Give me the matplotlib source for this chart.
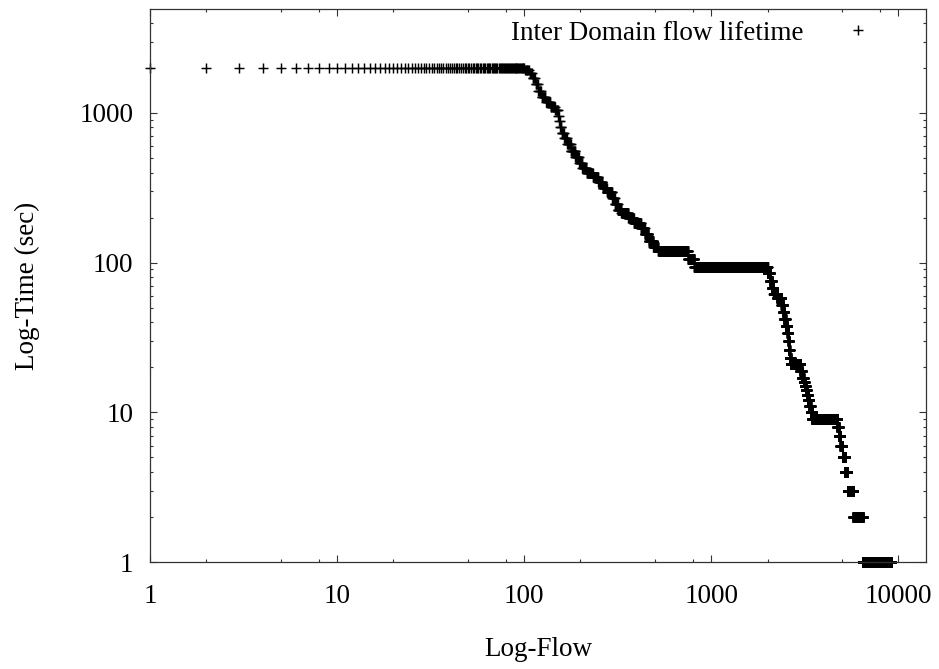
import numpy as np
import matplotlib
matplotlib.use('Agg')
import matplotlib.pyplot as plt
from matplotlib.ticker import LogLocator, FixedLocator, NullFormatter

plt.rcParams['font.family'] = ['Liberation Serif', 'DejaVu Serif']

# flows sorted by lifetime: each level holds the flows up to last_rank
lifetime = [2000, 1950, 1850, 1700, 1550, 1400, 1280, 1180, 1100, 1040,
            960, 880, 810, 740, 680, 620, 560, 510, 460, 430,
            400, 375, 345, 315, 295, 270, 245, 225, 215, 200,
            185, 170, 155, 140, 128, 120, 105, 94, 85, 75,
            68, 62, 58, 52, 47, 42, 38, 34, 30, 26,
            23, 21, 19, 17, 16, 15, 14, 13, 12, 11,
            10, 9, 8, 7, 6, 5, 4, 3, 2, 1]
last_rank = [100, 106, 110, 114, 118, 123, 130, 138, 146, 151,
             153, 155, 158, 163, 169, 177, 187, 196, 204, 215,
             232, 248, 262, 276, 295, 305, 316, 330, 360, 385,
             420, 440, 462, 490, 520, 750, 810, 2000, 2060, 2110,
             2150, 2250, 2370, 2420, 2450, 2500, 2550, 2580, 2600, 2625,
             2660, 2990, 3050, 3120, 3160, 3200, 3240, 3290, 3340, 3400,
             3460, 4720, 4800, 4900, 5030, 5180, 5350, 5750, 6450, 9150]

x_ticks = [1, 10, 100, 1000, 10000]
y_ticks = [1, 10, 100, 1000]

ranks = np.arange(1, last_rank[-1] + 1)
times = np.array(lifetime)[np.searchsorted(last_rank, ranks)]

fig = plt.figure(figsize=(9.39, 6.69), dpi=100)
ax = fig.add_axes([150/939, 1 - 562/669, (926-150)/939, (562-9)/669])

ax.plot(ranks, times, linestyle='none', marker='+', color='black',
        markersize=6.5, markeredgewidth=1.05, clip_on=False,
        label='Inter Domain flow lifetime')

ax.set_xscale('log')
ax.set_yscale('log')
ax.set_xlim(1, 14060)
ax.set_ylim(1, 4950)

ax.xaxis.set_major_locator(FixedLocator(x_ticks))
ax.xaxis.set_ticklabels([str(t) for t in x_ticks])
ax.xaxis.set_minor_locator(LogLocator(base=10, subs=[2, 5, 8]))
ax.xaxis.set_minor_formatter(NullFormatter())
ax.yaxis.set_major_locator(FixedLocator(y_ticks))
ax.yaxis.set_ticklabels([str(t) for t in y_ticks])
ax.yaxis.set_minor_locator(LogLocator(base=10, subs=np.arange(2, 10)))
ax.yaxis.set_minor_formatter(NullFormatter())

ax.tick_params(which='both', direction='in', top=True, right=True,
               labelsize=19.5, color='#333333', width=0.8)
ax.tick_params(which='major', length=5)
ax.tick_params(which='minor', length=2.5)
ax.tick_params(axis='x', which='major', pad=16)
ax.tick_params(axis='y', which='major', pad=12)
for sp in ax.spines.values():
    sp.set_color('#333333')
    sp.set_linewidth(0.9)

ax.set_xlabel('Log-Flow', fontsize=19.5, labelpad=20)
ax.set_ylabel('Log-Time (sec)', fontsize=19.5, labelpad=28)

ax.legend(loc='center right', bbox_to_anchor=(885/939, 1 - 33/669),
          bbox_transform=fig.transFigure, frameon=False, markerfirst=False,
          numpoints=1, handlelength=2, handletextpad=1.0, borderpad=0,
          borderaxespad=0, fontsize=19.5)

fig.savefig('out.png', dpi=100)
